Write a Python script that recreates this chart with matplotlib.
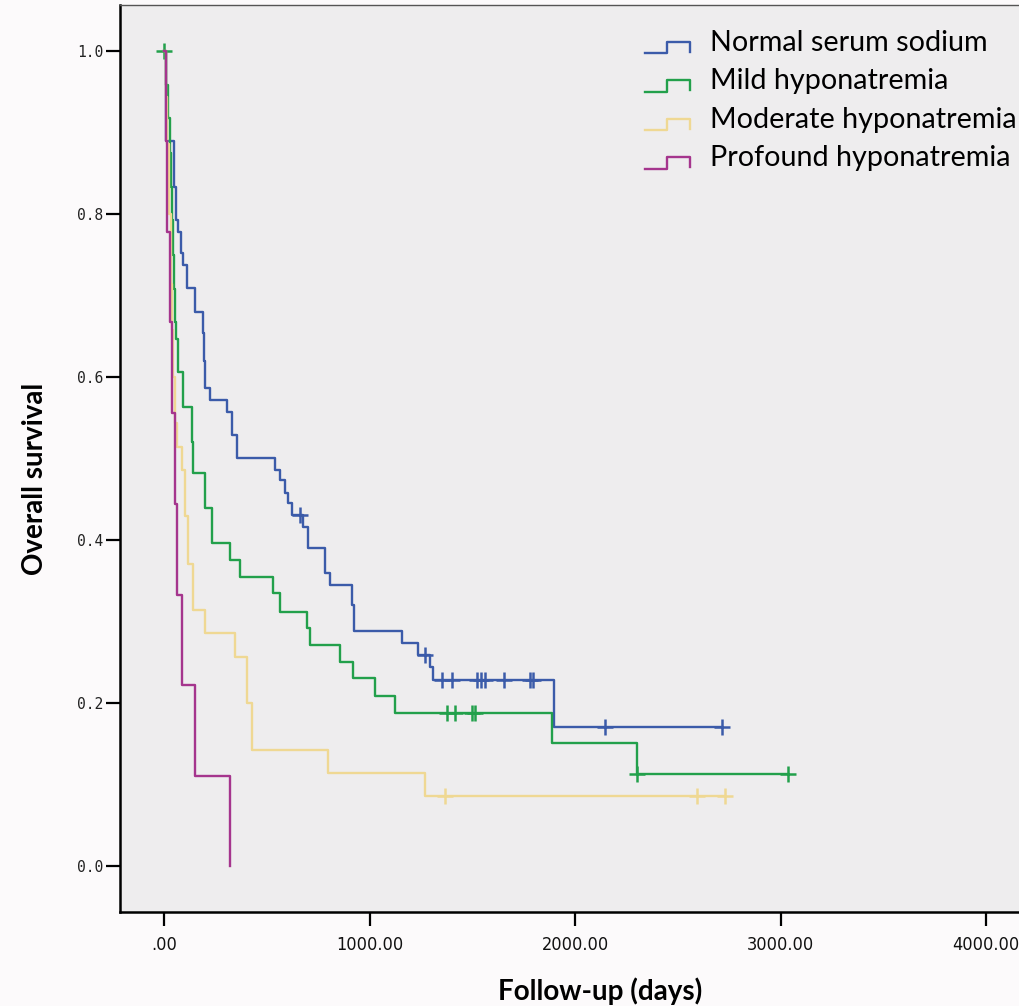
import numpy as np
import matplotlib
matplotlib.use("Agg")
import matplotlib.pyplot as plt
from matplotlib.lines import Line2D
from matplotlib.legend_handler import HandlerBase

# Kaplan-Meier curves, values (days, survival)
groups = ["Normal serum sodium", "Mild hyponatremia",
          "Moderate hyponatremia", "Profound hyponatremia"]
colors = ["#3B5BA9", "#22A04B", "#EFD893", "#A5358D"]

normal_t = [10, 49, 58, 68, 83, 92, 112, 151, 190, 195, 199, 224, 306, 331, 355,
            540, 564, 589, 603, 623, 676, 700, 783, 807, 914, 924, 1158, 1235,
            1294, 1308, 1897]
normal_s = [0.889, 0.833, 0.793, 0.778, 0.752, 0.737, 0.709, 0.680, 0.654, 0.620,
            0.587, 0.572, 0.557, 0.529, 0.501, 0.486, 0.474, 0.458, 0.445, 0.431,
            0.416, 0.390, 0.360, 0.345, 0.320, 0.288, 0.274, 0.259, 0.244, 0.228,
            0.171]
normal_cens = [661, 1269, 1352, 1401, 1522, 1542, 1561, 1654, 1780, 1795, 2145, 2714]

mild_t = [10, 19, 29, 34, 39, 44, 49, 54, 58, 68, 92, 136, 141, 199, 233, 321,
          370, 530, 564, 696, 710, 856, 919, 1026, 1124, 1887, 2301]
mild_s = [0.958, 0.917, 0.875, 0.833, 0.792, 0.750, 0.708, 0.667, 0.646, 0.606,
          0.563, 0.520, 0.482, 0.439, 0.396, 0.375, 0.355, 0.335, 0.312, 0.292,
          0.271, 0.250, 0.231, 0.209, 0.188, 0.151, 0.113]
mild_cens = [0, 1376, 1415, 1498, 1513, 2301, 3035]

moderate_t = [10, 15, 24, 34, 39, 44, 54, 63, 88, 102, 117, 141, 199, 345, 404,
              428, 798, 1269]
moderate_s = [0.943, 0.886, 0.800, 0.714, 0.657, 0.600, 0.543, 0.514, 0.486,
              0.429, 0.371, 0.314, 0.286, 0.257, 0.200, 0.143, 0.114, 0.086]
moderate_cens = [1367, 2592, 2729]

profound_t = [10, 15, 29, 39, 54, 63, 88, 151, 321]
profound_s = [0.889, 0.778, 0.667, 0.556, 0.444, 0.333, 0.222, 0.111, 0.0]
profound_cens = []

curves = [(normal_t, normal_s, normal_cens),
          (mild_t, mild_s, mild_cens),
          (moderate_t, moderate_s, moderate_cens),
          (profound_t, profound_s, profound_cens)]

x_ticks = [0, 1000, 2000, 3000, 4000]
x_tick_labels = [".00", "1000.00", "2000.00", "3000.00", "4000.00"]
y_ticks = [0.0, 0.2, 0.4, 0.6, 0.8, 1.0]


class StepHandler(HandlerBase):
    # little step icon like the SPSS legend
    def create_artists(self, legend, orig_handle, xdescent, ydescent,
                       width, height, fontsize, trans):
        x0, y0 = -xdescent, -ydescent
        xm = x0 + 0.5 * width
        xs = [x0, xm, xm, x0 + width, x0 + width]
        ys = [y0 - 0.12 * height, y0 - 0.12 * height, y0 + 0.45 * height,
              y0 + 0.45 * height, y0 - 0.05 * height]
        ln = Line2D(xs, ys, color=orig_handle.get_color(),
                    lw=orig_handle.get_linewidth(), transform=trans)
        return [ln]


fig = plt.figure(figsize=(10.2, 10.06), dpi=100, facecolor="#FCFAFB")
ax = fig.add_axes([0.1176, 0.0934, 0.9098, 0.9016])
ax.set_facecolor("#EEEDEE")

handles = []
for (t, s, cens), col, name in zip(curves, colors, groups):
    end = max([t[-1]] + cens)
    tt = np.array([0] + t + [end], dtype=float)
    ss = np.array([1.0] + s + [s[-1]])
    if s[-1] == 0:
        tt, ss = tt[:-1], ss[:-1]
    line, = ax.step(tt, ss, where="post", color=col, lw=1.7, label=name)
    handles.append(line)
    if cens:
        c = np.array(cens, dtype=float)
        idx = np.searchsorted(tt, c, side="right") - 1
        ax.plot(c, ss[idx], linestyle="none", marker="+", markersize=11,
                mew=1.8, color=col)

ax.set_xlim(-214, 4300)
ax.set_ylim(-0.056, 1.056)

ax.set_xticks(x_ticks)
ax.set_xticklabels(x_tick_labels, fontfamily="DejaVu Sans",
                   fontstretch="condensed", fontsize=13, color="#111111")
ax.set_yticks(y_ticks)
ax.set_yticklabels([f"{v:.1f}" for v in y_ticks], fontfamily="DejaVu Sans Mono",
                   fontsize=10.5, color="#222222")
ax.tick_params(axis="x", length=10, width=1.6, pad=7, direction="out")
ax.tick_params(axis="y", length=10, width=1.6, pad=2, direction="out")

for side in ["left", "bottom"]:
    ax.spines[side].set_linewidth(1.8)
ax.spines["top"].set_linewidth(1.0)
ax.spines["top"].set_color("#555555")

ax.set_xlabel("Follow-up (days)", fontfamily="Lato", fontweight="bold", fontsize=20)
ax.xaxis.set_label_coords(0.517, -0.072)
ax.set_ylabel("Overall survival", fontfamily="Lato", fontweight="bold", fontsize=20)
ax.yaxis.set_label_coords(-0.078, 0.478)

ax.legend(handles=handles, labels=groups, handler_map={Line2D: StepHandler()},
          loc="upper left", bbox_to_anchor=(645 / 1020, 1 - 30 / 1006),
          bbox_transform=fig.transFigure, frameon=False,
          prop={"family": "Lato", "size": 20.7}, handlelength=1.55,
          handletextpad=0.72, labelspacing=0.43, borderpad=0, borderaxespad=0)

fig.savefig("out.png", dpi=100, facecolor=fig.get_facecolor())
